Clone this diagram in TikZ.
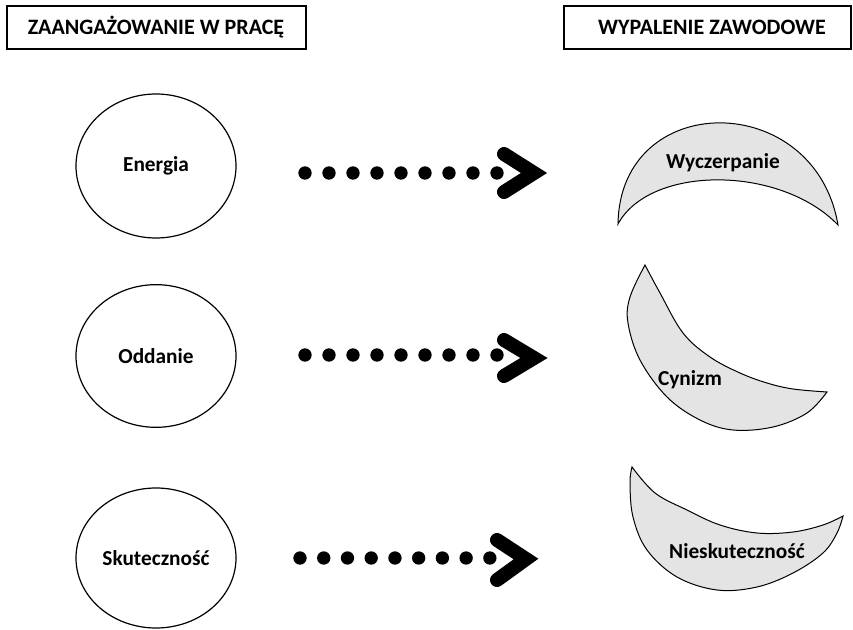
\documentclass[tikz,border=0pt]{standalone}
\usepackage{fontspec}
\setmainfont{Carlito}
\usetikzlibrary{shapes.geometric,calc}
\definecolor{moongray}{RGB}{228,228,228}
\tikzset{
  headbox/.style={draw=black, line width=1.1pt, fill=white},
  headtext/.style={font=\fontsize{16.5}{19}\selectfont\bfseries, inner sep=0pt},
  circnode/.style={ellipse, draw=black, line width=0.9pt, minimum width=120pt, minimum height=107pt, inner sep=0pt, font=\fontsize{16}{19}\selectfont\bfseries},
  moonshape/.style={draw=black, line width=0.75pt, fill=moongray},
  moontext/.style={font=\fontsize{16}{19}\selectfont\bfseries, inner sep=0pt},
  dotline/.style={line width=10pt, line cap=round, dash pattern=on 0pt off 18pt},
  chev/.style={line width=10.5pt, line cap=round, line join=miter, miter limit=10}
}
\begin{document}
\begin{tikzpicture}[x=0.75pt,y=-0.75pt]
\useasboundingbox (0,0) rectangle (853,630);
% headers
\draw[headbox] (7,6) rectangle (306,49);
\node[headtext] (hleft) at (156,27) {ZAANGAŻOWANIE W PRACĘ};
\draw[headbox] (564,6) rectangle (851,49);
\node[headtext] (hright) at (712,27) {WYPALENIE ZAWODOWE};
% circles
\node[circnode, minimum height=108pt] (energia) at (156,166) {Energia};
\node[circnode] (oddanie) at (156,356) {Oddanie};
\node[circnode, minimum height=105pt] (skut) at (156,558) {Skuteczność};
% moons
\filldraw[moonshape] (618,224) .. controls (620,89) and (815,89) .. (838,225)
  .. controls (780,165) and (650,165) .. (618,224) -- cycle;
\node[moontext] (wycz) at (723,163) {Wyczerpanie};
\filldraw[moonshape] (645,265) -- plot[smooth, tension=0.6] coordinates {(645,265) (630,297) (628,323) (640,360) (667,397) (700,420) (733,430) (773,427) (807,413) (827,392)}
  -- plot[smooth, tension=0.6] coordinates {(827,392) (793,389) (767,383) (740,373) (710,357) (683,333) (660,293) (645,265)} -- cycle;
\node[moontext] (cyn) at (690,380) {Cynizm};
\filldraw[moonshape] (632,467) -- plot[smooth, tension=0.6] coordinates {(632,467) (630,483) (633,517) (647,550) (677,577) (717,590) (757,587) (793,573) (823,553) (837,533) (843,516)}
  -- plot[smooth, tension=0.6] coordinates {(843,516) (823,525) (793,532) (757,533) (720,525) (687,510) (655,493) (632,467)} -- cycle;
\node[moontext] (niesk) at (737,551) {Nieskuteczność};
% arrows
\coordinate (a1s) at (305,173);
\coordinate (a1e) at (498,173);
\coordinate (a1t) at (534,173);
\draw[dotline] (a1s) -- (a1e);
\draw[chev] ($(a1t)+(-30,-19)$) -- (a1t) -- ($(a1t)+(-30,19)$);
\coordinate (a2s) at (305,355);
\coordinate (a2e) at (498,355);
\coordinate (a2t) at (534,358);
\draw[dotline] (a2s) -- (a2e);
\draw[chev] ($(a2t)+(-30,-18)$) -- (a2t) -- ($(a2t)+(-30,18)$);
\coordinate (a3s) at (300,558);
\coordinate (a3e) at (491,558);
\coordinate (a3t) at (526,559);
\draw[dotline, dash pattern=on 0pt off 17.8pt] (a3s) -- (a3e);
\draw[chev] ($(a3t)+(-29,-19)$) -- (a3t) -- ($(a3t)+(-29,21)$);
\end{tikzpicture}
\end{document}
